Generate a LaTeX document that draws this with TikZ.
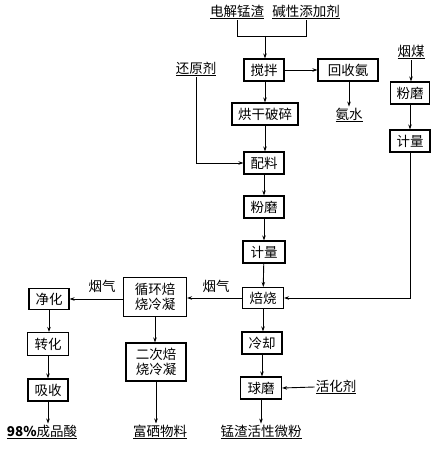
\documentclass[tikz,border=0pt]{standalone}
\usepackage{fontspec}
\setmainfont{Noto Sans CJK SC}
\usetikzlibrary{arrows.meta}
\begin{document}
\begin{tikzpicture}[x=1pt,y=-1pt,
  font=\fontsize{13.5}{15.5}\selectfont,
  box/.style={draw,line width=1.1pt,inner sep=0pt,minimum height=22pt,align=center},
  lbl/.style={inner sep=1pt},
  arr/.style={line width=0.9pt,-{Stealth[length=5pt,width=3.5pt]}},
  ln/.style={line width=0.9pt}]
\useasboundingbox (0,0) rectangle (445,449);
% top inputs
\node[lbl] (dj) at (237,12) {\underline{电解锰渣}};
\node[lbl] (jx) at (306,12) {\underline{碱性添加剂}};
\coordinate (m1) at (237,36);
\coordinate (m2) at (306,36);
\coordinate (m3) at (265,36);
\node[box,minimum width=40pt] (jb) at (264,70) {搅拌};
\node[box,minimum width=60pt] (hs) at (348,70) {回收氨};
\node[lbl] (as) at (349,115) {\underline{氨水}};
\node[lbl] (hy) at (196,69) {\underline{还原剂}};
\node[box,minimum width=66pt] (hg) at (265,114) {烘干破碎};
\node[box,minimum width=40pt] (pl) at (264,163) {配料};
\node[box,minimum width=40pt] (fm) at (264,207) {粉磨};
\node[box,minimum width=42pt] (jl) at (264,252) {计量};
\node[box,minimum width=41pt,minimum height=21pt] (bs) at (263,298) {焙烧};
% right column
\node[lbl] (ym) at (411,52) {\underline{烟煤}};
\node[box,minimum width=39pt] (fm2) at (410,93) {粉磨};
\node[box,minimum width=40pt] (jl2) at (410,141) {计量};
% middle-left
\node[box,minimum width=63pt,minimum height=39pt] (xh) at (155,297) {循环焙\\烧冷凝};
\node[box,minimum width=60pt,minimum height=38pt] (ec) at (156,362) {二次焙\\烧冷凝};
\node[lbl] (fx) at (160,432) {\underline{富硒物料}};
% left column
\node[box,minimum width=40pt,minimum height=21pt] (jh) at (49,299) {净化};
\node[box,minimum width=41pt,minimum height=23pt] (zh) at (48,344) {转化};
\node[box,minimum width=40pt] (xs) at (48,390) {吸收};
\node[lbl] (cp) at (42,432) {\underline{\textbf{98\%}成品酸}};
% bottom middle
\node[box,minimum width=40pt] (lq) at (262,343) {冷却};
\node[box,minimum width=41pt] (qm) at (261,388) {球磨};
\node[lbl] (hh) at (336,387) {\underline{活化剂}};
\node[lbl] (mz) at (261,432) {\underline{锰渣活性微粉}};
% labels
\node[lbl] (yq1) at (216,286) {烟气};
\node[lbl] (yq2) at (102,286) {烟气};
% connectors
\draw[ln] (dj.south) -- (m1) -- (m2) -- (jx.south);
\draw[arr] (m3) -- (m3 |- jb.north);
\draw[arr] (jb) -- (hs);
\draw[arr] (hs.south -| as) -- (as.north);
\draw[arr] (jb.south -| hg) -- (hg.north);
\draw[arr] (hg.south) -- (hg.south |- pl.north);
\draw[arr] (hy.south) |- (pl.west);
\draw[arr] (pl) -- (fm);
\draw[arr] (fm) -- (jl);
\draw[arr] (jl) -- (bs);
\draw[arr] (ym.south) -- (ym.south |- fm2.north);
\draw[arr] (fm2) -- (fm2 |- jl2.north);
\draw[arr] (jl2.south) |- (bs.east);
\draw[arr] (bs.west) -- (bs.west -| xh.east);
\draw[arr] (xh.west |- jh) -- (jh.east);
\draw[arr] (jh.south) -- (jh.south |- zh.north);
\draw[arr] (zh.south) -- (zh.south |- xs.north);
\draw[arr] (xs.south) -- (xs.south |- cp.north);
\draw[arr] (xh.south) -- (xh.south |- ec.north);
\draw[arr] (ec.south) -- (ec.south |- fx.north);
\draw[arr] (bs.south) -- (bs.south |- lq.north);
\draw[arr] (lq.south) -- (lq.south |- qm.north);
\draw[arr] (hh.west) -- (qm.east);
\draw[arr] (qm.south) -- (mz.north);
\end{tikzpicture}
\end{document}
